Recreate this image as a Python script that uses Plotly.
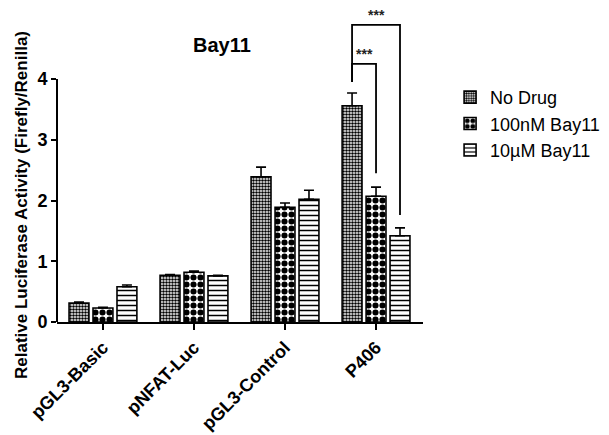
import plotly.graph_objects as go

categories = ["pGL3-Basic", "pNFAT-Luc", "pGL3-Control", "P406"]
series_names = ["No Drug", "100nM Bay11", "10\u00b5M Bay11"]
no_drug = [0.31, 0.77, 2.39, 3.56]
no_drug_err = [0.02, 0.01, 0.16, 0.21]
bay100 = [0.23, 0.82, 1.89, 2.07]
bay100_err = [0.01, 0.02, 0.07, 0.15]
bay10u = [0.58, 0.76, 2.02, 1.42]
bay10u_err = [0.03, 0.01, 0.15, 0.13]
y_ticks = [0, 1, 2, 3, 4]

# significance brackets: (category index, series a, series b, bracket top, leg bottom a, leg bottom b)
brackets = [
    (3, 0, 1, 4.25, 3.95, 2.45),
    (3, 0, 2, 4.89, 3.95, 1.76),
]
bracket_label = "***"

values = [no_drug, bay100, bay10u]
errors = [no_drug_err, bay100_err, bay10u_err]
patterns = [
    dict(shape=".", size=3, solidity=0.55, fgcolor="black", bgcolor="white", fgopacity=1),
    dict(shape=".", size=7, solidity=0.6, fgcolor="black", bgcolor="white", fgopacity=1),
    dict(shape="-", size=5, solidity=0.3, fgcolor="black", bgcolor="white", fgopacity=1),
]

fig = go.Figure()
for name, v, e, p in zip(series_names, values, errors, patterns):
    fig.add_trace(go.Bar(
        x=categories, y=v, name=name,
        marker=dict(color="white", pattern=p, line=dict(color="black", width=1.6)),
        error_y=dict(type="data", array=e, arrayminus=[0] * len(e), symmetric=False,
                     color="black", thickness=1.6, width=5),
    ))

bargap = 0.21
n = len(series_names)
slot = (1 - bargap) / n
shapes = [dict(type="line", xref="paper", yref="y", x0=0, x1=0, y0=0, y1=max(y_ticks),
               line=dict(color="black", width=2))]
annotations = []
for (ci, a, b, top, la, lb) in brackets:
    xa = ci + (a - (n - 1) / 2) * slot
    xb = ci + (b - (n - 1) / 2) * slot
    shapes.append(dict(type="path", xref="x", yref="y",
                       path=f"M {xa},{la} L {xa},{top} L {xb},{top} L {xb},{lb}",
                       line=dict(color="black", width=1.8)))
    annotations.append(dict(x=(xa + xb) / 2, y=top, xref="x", yref="y", text="<b>" + bracket_label + "</b>",
                            showarrow=False, yanchor="bottom", yshift=0,
                            font=dict(size=14, color="#222", family="Liberation Sans")))

W, H = 601, 427
ML, MR, MT, MB = 49, 186, 0, 113
plot_w, plot_h = W - ML - MR, H - MT - MB

annotations.append(dict(text="<b>Bay11</b>", x=(214 - ML) / plot_w, y=4.56, xref="paper", yref="y",
                        xanchor="center", yanchor="middle",
                        showarrow=False, font=dict(size=20, color="black", family="Liberation Sans")))
annotations.append(dict(text="<b>Relative Luciferase Activity (Firefly/Renilla)</b>",
                        x=(13 - ML) / plot_w, y=(H - MB - 197) / plot_h,
                        xref="paper", yref="paper", textangle=-90,
                        xanchor="center", yanchor="middle",
                        showarrow=False, font=dict(size=17, color="black", family="Liberation Sans")))

fig.update_layout(
    width=W, height=H,
    margin=dict(l=ML, r=MR, t=MT, b=MB, autoexpand=False),
    paper_bgcolor="white", plot_bgcolor="white",
    barmode="group", bargap=bargap, bargroupgap=0.17,
    font=dict(family="Liberation Sans", color="black"),
    showlegend=True,
    legend=dict(x=1.074, y=0.774, xanchor="left", yanchor="top",
                font=dict(size=18, family="Liberation Sans"), tracegroupgap=6),
    shapes=shapes, annotations=annotations,
    xaxis=dict(range=[-0.505, 3.516], showline=True, linecolor="black", linewidth=2,
               ticks="outside", ticklen=6, tickwidth=1.5, tickcolor="black",
               tickangle=-45, tickfont=dict(size=18, family="Liberation Sans"),
               showgrid=False, zeroline=False, automargin=False,
               tickvals=categories, ticktext=[f"<b>{c}</b>" for c in categories]),
    yaxis=dict(range=[0, 5.169], showline=False, tickvals=y_ticks,
               ticktext=[f"<b>{t}</b>" for t in y_ticks],
               ticks="outside", ticklen=5, tickwidth=1.5, tickcolor="black",
               tickfont=dict(size=18, family="Liberation Sans"),
               showgrid=False, zeroline=False, automargin=False),
)

fig.write_html("out.html")
